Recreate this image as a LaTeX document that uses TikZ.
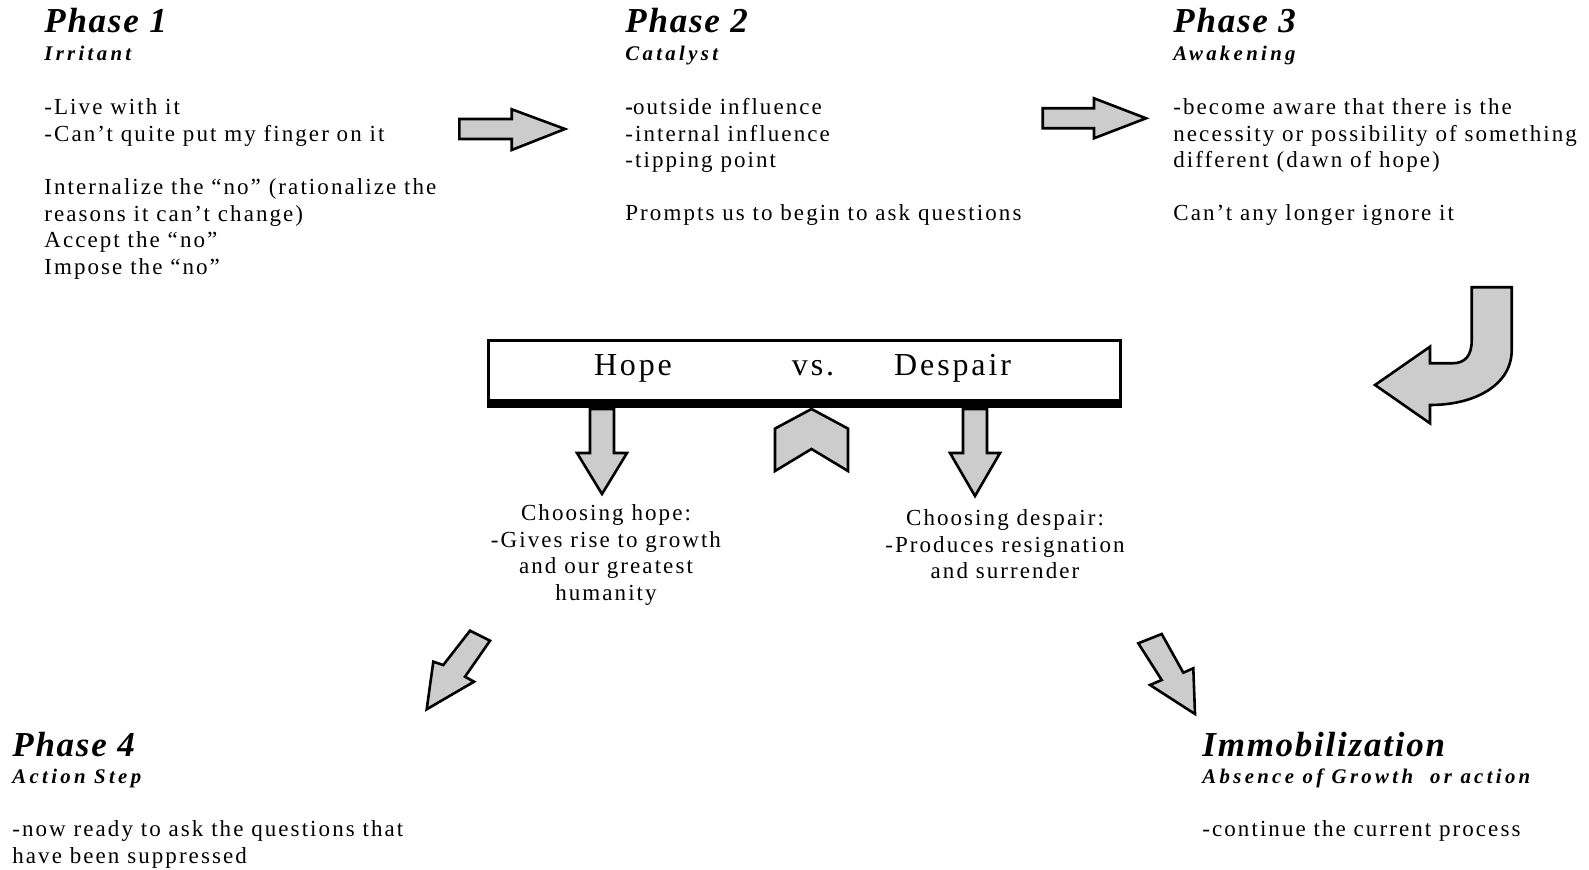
\documentclass[tikz,border=0pt]{standalone}
\usepackage{fontspec}
\setmainfont{Liberation Serif}
\newfontfamily\bodyfont[LetterSpace=9]{Liberation Serif}
\newfontfamily\subfont[LetterSpace=16]{Liberation Serif}
\newfontfamily\titlefont[LetterSpace=5]{Liberation Serif}
\newfontfamily\boxfont[LetterSpace=9]{Liberation Serif}
\definecolor{arrowgray}{HTML}{CCCCCC}
\begin{document}
\begin{tikzpicture}[x=0.5pt,y=-0.5pt,
  ttl/.style={anchor=base west,inner sep=0,font=\titlefont\bfseries\itshape\fontsize{17.5}{20}\selectfont},
  sub/.style={anchor=base west,inner sep=0,font=\subfont\bfseries\itshape\fontsize{10.4}{12}\selectfont},
  body/.style={anchor=base west,inner sep=0,align=left,font=\bodyfont\fontsize{11.5}{13.25}\selectfont},
  cbody/.style={anchor=base,inner sep=0,align=center,font=\bodyfont\fontsize{11.5}{13.25}\selectfont},
  boxtxt/.style={anchor=base,inner sep=0,font=\boxfont\fontsize{16}{18}\selectfont},
  blockarrow/.style={draw=black,fill=arrowgray,line width=1.3pt,line join=miter}]
\useasboundingbox (0,0) rectangle (1589,870);
% Phase 1 (multi-line nodes are placed by the baseline of their last line)
\node[ttl] (p1t) at (44,33) {Phase 1};
\node[sub] (p1s) at (44,61) {Irritant};
\node[body] (p1a) at (44,141.5) {-Live with it\\-Can’t quite put my finger on it};
\node[body] (p1b) at (44,274.5) {Internalize the “no” (rationalize the\\reasons it can’t change)\\Accept the “no”\\Impose the “no”};
% Phase 2
\node[ttl] (p2t) at (625,33) {Phase 2};
\node[sub] (p2s) at (625,61) {Catalyst};
\node[body] (p2a) at (625,168) {{\bfseries -}outside influence\\-internal influence\\-tipping point};
\node[body] (p2b) at (625,220.7) {Prompts us to begin to ask questions};
% Phase 3
\node[ttl] (p3t) at (1173,33) {Phase 3};
\node[sub] (p3s) at (1173,61) {Awakening};
\node[body] (p3a) at (1173,168) {-become aware that there is the\\necessity or possibility of something\\different (dawn of hope)};
\node[body] (p3b) at (1173,221) {Can’t any longer ignore it};
% Phase 4
\node[ttl] (p4t) at (12,756) {Phase 4};
\node[sub] (p4s) at (12,783) {Action Step};
\node[body] (p4a) at (12,863) {-now ready to ask the questions that\\have been suppressed};
% Immobilization
\node[ttl] (imt) at (1202,756) {Immobilization};
\node[sub] (ims) at (1202,783) {Absence of Growth\ \ or action};
\node[body] (ima) at (1202,836) {-continue the current process};
% arrows between phases
\draw[blockarrow] (459.3,119) -- (511.7,119) -- (511.7,109.3) -- (565,129) -- (511.7,150) -- (511.7,139) -- (459.3,139) -- cycle;
\draw[blockarrow] (1042.7,108.3) -- (1094,108.3) -- (1094,98.3) -- (1146,118.3) -- (1094,138.3) -- (1094,128.3) -- (1042.7,128.3) -- cycle;
% U-turn arrow
\draw[blockarrow] (1471.7,287.3) -- (1511.7,287.3) -- (1511.7,350)
  .. controls (1511.7,385) and (1475,405) .. (1430,405)
  -- (1430,423.3) -- (1375,385) -- (1430,346.7) -- (1430,363.3) -- (1452,363.3)
  .. controls (1465,363.3) and (1471.7,356) .. (1471.7,340) -- cycle;
% central box
\fill[black] (487,399) rectangle (1121.5,408);
\draw[line width=1.5pt,fill=white] (488.5,340.5) rectangle (1120,401);
\node[boxtxt] (hope) at (633,376) {Hope};
\node[boxtxt] (vs) at (813,376) {vs.};
\node[boxtxt] (despair) at (952.6,376) {Despair};
% down arrows and chevron
\draw[blockarrow] (590,409) -- (614,409) -- (614,453) -- (627,453) -- (602,494) -- (577,453) -- (590,453) -- cycle;
\draw[blockarrow] (963,409) -- (987,409) -- (987,453) -- (1000,453) -- (975,496) -- (950,453) -- (963,453) -- cycle;
\draw[blockarrow] (775,428.6) -- (811.5,409) -- (848,428.6) -- (848,471) -- (811.5,449) -- (775,471) -- cycle;
% choice texts
\node[cbody] (chope) at (606,600.5) {Choosing hope:\\-Gives rise to growth\\and our greatest\\humanity};
\node[cbody] (cdesp) at (1005,579) {Choosing despair:\\-Produces resignation\\and surrender};
% diagonal arrows
\draw[blockarrow] (470,630.7) -- (490,640.7) -- (465,676.7) -- (474,681.7) -- (426.7,709.3) -- (433.3,661.7) -- (443.3,665) -- cycle;
\draw[blockarrow] (1138.3,643.3) -- (1161.7,634) -- (1183.3,672.7) -- (1193.3,668.3) -- (1195,714) -- (1150,685) -- (1161.7,680) -- cycle;
\end{tikzpicture}
\end{document}
